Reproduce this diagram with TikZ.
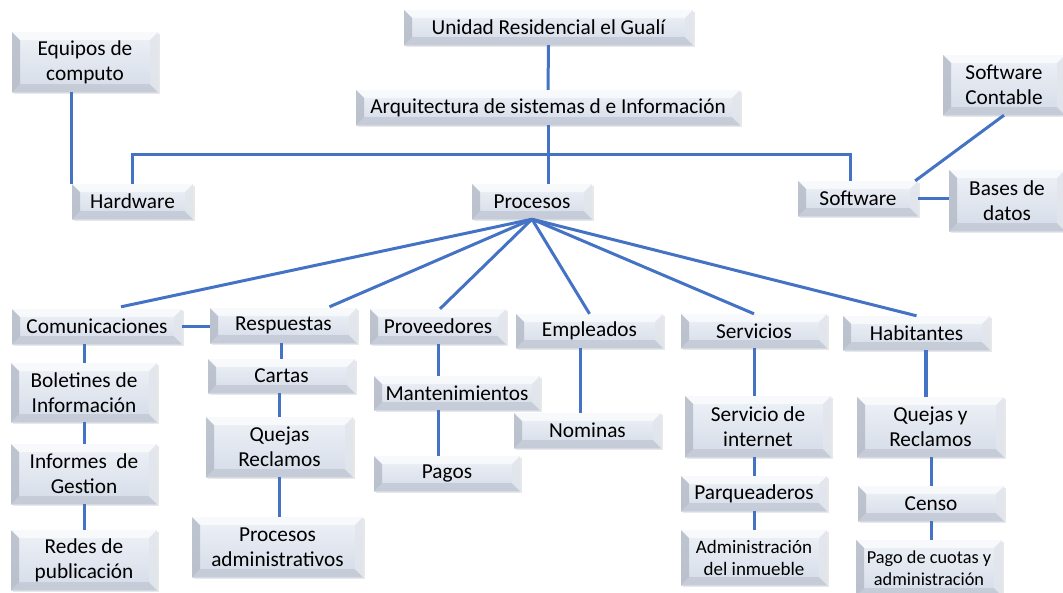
\documentclass[tikz,border=0pt]{standalone}
\usepackage{fontspec}
\setmainfont{Carlito}
\usetikzlibrary{calc}
\definecolor{lnblue}{HTML}{4472C4}
\definecolor{facetop}{HTML}{EEF1F7}
\definecolor{facebot}{HTML}{D5DCE8}
\definecolor{bvtop}{HTML}{FAFBFD}
\definecolor{bvleft}{HTML}{B3BAC6}
\definecolor{bvbot}{HTML}{C4CAD5}
\definecolor{bvright}{HTML}{E2E6EC}
\tikzset{
  bx/.style={inner sep=0pt, align=center, font=\fontsize{21.3}{25}\selectfont,
    top color=facetop, bottom color=facebot,
    preaction={fill=black!30, opacity=0.3, transform canvas={shift={(1.5pt,-1.8pt)}}},
    path picture={
      \path (path picture bounding box.north west) coordinate (pNW)
            (path picture bounding box.north east) coordinate (pNE)
            (path picture bounding box.south west) coordinate (pSW)
            (path picture bounding box.south east) coordinate (pSE);
      \fill[bvtop, opacity=0.85] (pNW) -- (pNE) -- ([shift={(-8pt,-8pt)}]pNE) -- ([shift={(8pt,-8pt)}]pNW) -- cycle;
      \fill[bvbot, opacity=0.85] (pSW) -- (pSE) -- ([shift={(-8pt,8pt)}]pSE) -- ([shift={(8pt,8pt)}]pSW) -- cycle;
      \fill[bvleft, opacity=0.8] (pNW) -- ([shift={(8pt,-8pt)}]pNW) -- ([shift={(8pt,8pt)}]pSW) -- (pSW) -- cycle;
      \fill[bvright, opacity=0.85] (pNE) -- ([shift={(-8pt,-8pt)}]pNE) -- ([shift={(-8pt,8pt)}]pSE) -- (pSE) -- cycle;
    }},
  small/.style={font=\fontsize{19}{22}\selectfont},
  tiny/.style={font=\fontsize{18.3}{22}\selectfont},
  ln/.style={draw=lnblue, line width=3pt}
}
\begin{document}
\begin{tikzpicture}[x=1pt,y=-1pt]
\useasboundingbox (0,0) rectangle (1063,592);
% nodes
\node[bx, minimum width=289, minimum height=35] (u) at (548.5,27.5) {Unidad Residencial el Gualí};
\node[bx, minimum width=146, minimum height=60] (eq) at (85,62) {Equipos de\\computo};
\node[bx, minimum width=384, minimum height=35] (arq) at (548,107.5) {Arquitectura de sistemas d e Información};
\node[bx, minimum width=122, minimum height=60] (sc) at (1004,85) {Software\\Contable};
\node[bx, minimum width=121, minimum height=35] (hw) at (132.5,201.5) {Hardware};
\node[bx, minimum width=120, minimum height=35] (pr) at (532,201.5) {Procesos};
\node[bx, minimum width=120, minimum height=35] (sw) at (858,198.5) {Software};
\node[bx, minimum width=116, minimum height=61] (bd) at (1007,200.5) {Bases de\\datos};
\node[bx, minimum width=170, minimum height=35] (com) at (97,326.5) {Comunicaciones};
\node[bx, minimum width=147, minimum height=35] (resp) at (283.5,325.5) {Respuestas};
\node[bx, minimum width=136, minimum height=35] (prov) at (438,326.5) {Proveedores};
\node[bx, minimum width=147, minimum height=34] (emp) at (589.5,331) {Empleados};
\node[bx, minimum width=146, minimum height=34] (serv) at (754,331) {Servicios};
\node[bx, minimum width=147, minimum height=34] (hab) at (916.5,333) {Habitantes};
\node[bx, minimum width=146, minimum height=59] (bol) at (84,392.5) {Boletines de\\Información};
\node[bx, minimum width=147, minimum height=34] (cart) at (281.5,376) {Cartas};
\node[bx, minimum width=166, minimum height=34] (mant) at (457,393) {Mantenimientos};
\node[bx, minimum width=147, minimum height=35] (nom) at (587.5,430.5) {Nominas};
\node[bx, minimum width=146, minimum height=61] (sint) at (758,426.5) {Servicio de\\internet};
\node[bx, minimum width=147, minimum height=60] (qyr) at (930.5,427) {Quejas y\\Reclamos};
\node[bx, minimum width=147, minimum height=60] (qr) at (279.5,447) {Quejas\\Reclamos};
\node[bx, minimum width=146, minimum height=60] (inf) at (84,474) {Informes~ de\\Gestion};
\node[bx, minimum width=146, minimum height=35] (pag) at (447,473.5) {Pagos};
\node[bx, minimum width=146, minimum height=35] (parq) at (754,493.5) {Parqueaderos};
\node[bx, minimum width=146, minimum height=35] (censo) at (931,503.5) {Censo};
\node[bx, minimum width=146, minimum height=60] (redes) at (84,560) {Redes de\\publicación};
\node[bx, minimum width=171, minimum height=60] (padm) at (277.5,547) {Procesos\\administrativos};
\node[bx, small, minimum width=146, minimum height=55] (adm) at (754,557.5) {Administración\\del inmueble};
\node[bx, tiny, minimum width=146, minimum height=56] (pago) at (929,568) {Pago de cuotas y\\administración};
% connectors
\draw[ln] (u.south) -- (arq.north);
\draw[ln] (arq.south) -- (arq.south |- pr.north);
\draw[ln] (hw.north) -- ++(0,-29) -| ([xshift=-8pt]sw.north);
\draw[ln] (hw.north west) -- (hw.north west |- eq.south);
\draw[ln] (sc.south) -- ([xshift=-3pt]sw.north east);
\draw[ln] (sw.east) -- (bd.west |- sw.east);
\draw[ln] (pr.south) -- ([shift={(24pt,2pt)}]com.north);
\draw[ln] (pr.south) -- ([shift={(46pt,1pt)}]resp.north);
\draw[ln] (pr.south) -- ([xshift=2pt]prov.north);
\draw[ln] (pr.south) -- (emp.north);
\draw[ln] (pr.south) -- (serv.north);
\draw[ln] (pr.south) -- (hab.north);
\draw[ln] (com.east) -- (resp.west |- com.east);
\draw[ln] (com.south -| bol.north) -- (bol.north);
\draw[ln] (bol.south) -- (inf.north);
\draw[ln] (inf.south) -- (redes.north);
\draw[ln] (resp.south -| cart.north) -- (cart.north);
\draw[ln] (cart.south -| qr.north) -- (qr.north);
\draw[ln] (qr.south) -- (qr.south |- padm.north);
\draw[ln] (prov.south) -- (prov.south |- mant.north);
\draw[ln] (prov.south |- mant.south) -- (prov.south |- pag.north);
\draw[ln] ([xshift=-9pt]emp.south) -- ([xshift=-9pt]emp.south |- nom.north);
\draw[ln] (serv.south) -- (serv.south |- sint.north);
\draw[ln] (sint.south -| parq.north) -- (parq.north);
\draw[ln] (parq.south) -- (adm.north);
\draw[ln, line width=3.6pt] ([xshift=9.5pt]hab.south) -- ([xshift=9.5pt]hab.south |- qyr.north);
\draw[ln] (qyr.south -| censo.north) -- (censo.north);
\draw[ln] (censo.south) -- (censo.south |- pago.north);
\end{tikzpicture}
\end{document}
